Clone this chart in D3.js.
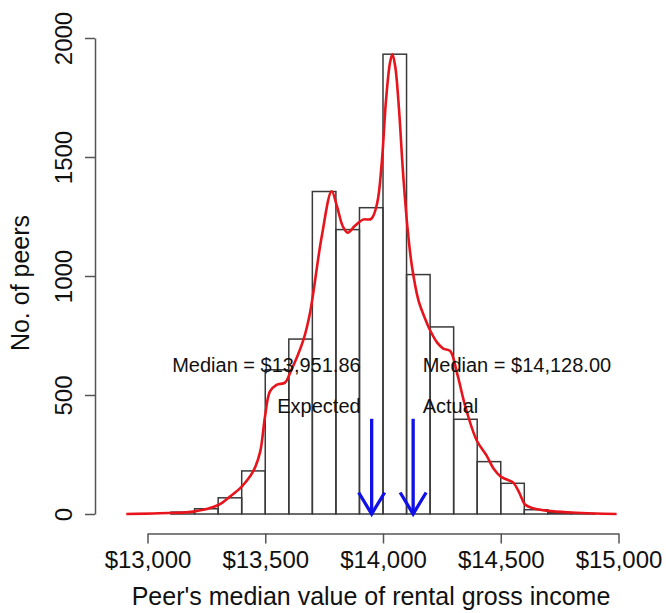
<!DOCTYPE html>
<html>
<head>
<meta charset="utf-8">
<script src="https://cdn.jsdelivr.net/npm/d3@7"></script>
<style>
  body { margin: 0; background: #fff; }
  svg text { font-family: "Liberation Sans", Arial, sans-serif; fill: #111; }
</style>
</head>
<body>
<svg id="chart" width="666" height="613"></svg>
<script>
// histogram bins (lower edge of each $100 bin) and counts
const binStarts = [13100, 13200, 13300, 13400, 13500, 13600, 13700, 13800, 13900,
                   14000, 14100, 14200, 14300, 14400, 14500, 14600, 14700, 14800]
const binCounts = [8, 22, 68, 181, 606, 735, 1355, 1195, 1287,
                   1932, 1006, 786, 398, 220, 129, 18, 6, 2]
const binWidth = 100

// density curve (scaled to counts)
const densX = [12910, 13050, 13194, 13301, 13350, 13400, 13449, 13478, 13499, 13520,
               13548, 13584, 13605, 13662, 13690, 13740, 13782, 13805, 13830, 13850,
               13880, 13915, 13950, 13975, 13995, 14013, 14030, 14040, 14052, 14068,
               14085, 14106, 14123, 14150, 14175, 14200, 14230, 14256, 14285, 14315,
               14350, 14398, 14440, 14470, 14500, 14530, 14553, 14580, 14603, 14638,
               14700, 14800, 14900, 14992]
const densY = [0, 3, 10, 38, 73, 115, 180, 260, 410, 515,
               543, 552, 592, 732, 845, 1167, 1356, 1291, 1207, 1182,
               1210, 1237, 1240, 1305, 1480, 1742, 1898, 1932, 1880, 1700,
               1435, 1182, 1040, 900, 830, 772, 720, 695, 685, 590,
               450, 309, 245, 190, 157, 143, 132, 87, 40, 24,
               13, 6, 2, 0]

const xTicks = [13000, 13500, 14000, 14500, 15000]
const yTicks = [0, 500, 1000, 1500, 2000]

const medians = [13951.86, 14128.00]
const medianLabels = ["Median = $13,951.86", "Median = $14,128.00"]
const groupLabels = ["Expected", "Actual"]
const arrowTop = 400

const svg = d3.select("#chart")

const x = d3.scaleLinear().domain([13000, 15000]).range([147.5, 618.5])
const y = d3.scaleLinear().domain([0, 2000]).range([514, 38])

// bars
svg.append("g")
    .selectAll("rect")
    .data(binStarts)
    .join("rect")
    .attr("x", d => x(d))
    .attr("y", (d, i) => y(binCounts[i]))
    .attr("width", d => x(d + binWidth) - x(d))
    .attr("height", (d, i) => y(0) - y(binCounts[i]))
    .attr("fill", "none")
    .attr("stroke", "#3a3a3a")
    .attr("stroke-width", 1.5)

// density line
const line = d3.line()
    .x(d => x(d[0]))
    .y(d => y(d[1]))
    .curve(d3.curveCatmullRom.alpha(0.5))

svg.append("path")
    .datum(densX.map((v, i) => [v, densY[i]]))
    .attr("d", line)
    .attr("fill", "none")
    .attr("stroke", "#e8141c")
    .attr("stroke-width", 2.6)

// x axis
const xAxis = svg.append("g")
    .attr("transform", "translate(0,533.5)")
    .call(d3.axisBottom(x)
        .tickValues(xTicks)
        .tickSize(10)
        .tickSizeOuter(0)
        .tickPadding(7)
        .tickFormat(d => "$" + d3.format(",")(d)))
xAxis.select(".domain").attr("stroke", "#555").attr("stroke-width", 1.5)
xAxis.selectAll(".tick line").attr("stroke", "#555").attr("stroke-width", 1.5)
xAxis.selectAll(".tick text")
    .attr("font-size", 24)
    .style("font-family", "Liberation Sans, Arial, sans-serif")
    .attr("fill", "#111")

// y axis
const yAxis = svg.append("g")
    .attr("transform", "translate(95,0)")
    .call(d3.axisLeft(y)
        .tickValues(yTicks)
        .tickSize(10)
        .tickSizeOuter(0)
        .tickFormat(d3.format("d")))
yAxis.select(".domain").attr("stroke", "#555").attr("stroke-width", 1.5)
yAxis.selectAll(".tick line").attr("stroke", "#555").attr("stroke-width", 1.5)
yAxis.selectAll(".tick text")
    .attr("transform", "rotate(-90)")
    .attr("x", 0)
    .attr("y", -23)
    .attr("dy", 0)
    .attr("text-anchor", "middle")
    .attr("font-size", 24)
    .style("font-family", "Liberation Sans, Arial, sans-serif")
    .attr("fill", "#111")

// axis titles
svg.append("text")
    .attr("x", 371)
    .attr("y", 605)
    .attr("text-anchor", "middle")
    .attr("font-size", 25)
    .text("Peer's median value of rental gross income")

svg.append("text")
    .attr("transform", "translate(29,283) rotate(-90)")
    .attr("text-anchor", "middle")
    .attr("font-size", 25)
    .text("No. of peers")

// arrows for the medians
const arrows = svg.append("g")
    .attr("stroke", "#1010e8")
    .attr("stroke-width", 3.3)
    .attr("fill", "none")

medians.forEach(m => {
    let ax = x(m), top = y(arrowTop), tip = y(0)
    arrows.append("line")
        .attr("x1", ax).attr("x2", ax)
        .attr("y1", top).attr("y2", tip)
    arrows.append("path")
        .attr("d", `M${ax - 13},${tip - 21.5}L${ax},${tip}L${ax + 13},${tip - 21.5}`)
})

// labels: expected to the left of its arrow, actual to the right
medians.forEach((m, i) => {
    let left = i === 0
    let tx = left ? x(m) - 11 : x(m) + 9.5
    let g = svg.append("g").attr("text-anchor", left ? "end" : "start")
    g.append("text")
        .attr("x", tx)
        .attr("y", 372)
        .attr("font-size", 20)
        .text(medianLabels[i])
    g.append("text")
        .attr("x", tx)
        .attr("y", 413)
        .attr("font-size", 20)
        .text(groupLabels[i])
})
</script>
</body>
</html>
